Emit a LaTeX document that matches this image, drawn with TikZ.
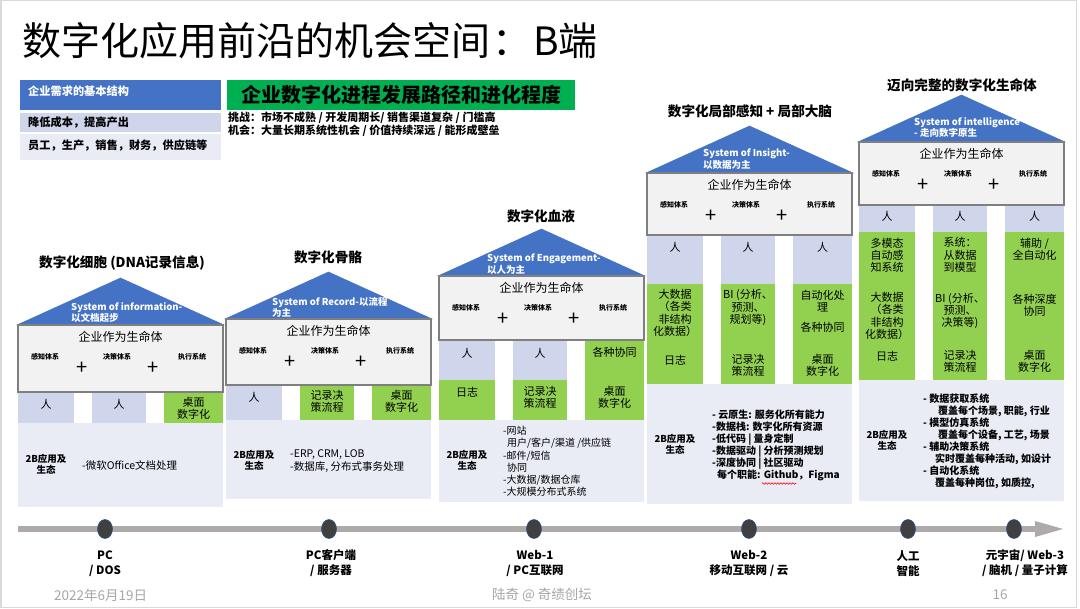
\documentclass[tikz,border=0pt]{standalone}
\usepackage{fontspec}
\setmainfont{Noto Sans CJK SC}
\usetikzlibrary{shapes.geometric,decorations.pathmorphing}
\definecolor{roofblue}{HTML}{4472C4}
\definecolor{boxgray}{HTML}{F2F2F2}
\definecolor{boxedge}{HTML}{7F7F7F}
\definecolor{lavender}{HTML}{CFD5EA}
\definecolor{lightbg}{HTML}{E9EBF5}
\definecolor{colgreen}{HTML}{92D050}
\definecolor{titlegreen}{HTML}{00B050}
\definecolor{bargray}{HTML}{AEAAAA}
\definecolor{dotfill}{HTML}{404040}
\definecolor{dotedge}{HTML}{2F5597}
\definecolor{footgray}{HTML}{A6A6A6}
\definecolor{framegray}{HTML}{D9D9D9}
\tikzset{
 roof/.style={fill=roofblue, draw=roofblue, line width=0.5pt},
 lifebox/.style={fill=boxgray, draw=boxedge, line width=1.6pt},
 lavcol/.style={fill=lavender},
 grncol/.style={fill=colgreen},
 basebox/.style={fill=lightbg},
 htitle/.style={font=\fontsize{13.6}{16}\selectfont\bfseries, inner sep=0pt},
 rooftxt/.style={font=\fontsize{9.5}{11.5}\selectfont\bfseries, text=white, align=left, anchor=west, inner sep=0pt},
 lifetxt/.style={font=\fontsize{12}{14}\selectfont, inner sep=0pt},
 subtxt/.style={font=\fontsize{7}{8}\selectfont\bfseries, inner sep=0pt},
 plustxt/.style={font=\fontsize{20}{20}\selectfont, inner sep=0pt},
 coltxt/.style={font=\fontsize{11}{12.2}\selectfont, align=center, inner sep=0pt},
 ecotxt/.style={font=\fontsize{9.5}{11}\selectfont\bfseries, align=center, inner sep=0pt},
 lsttxt/.style={font=\fontsize{10}{12.2}\selectfont, align=left, anchor=west, inner sep=0pt},
 lstbold/.style={font=\fontsize{10}{12}\selectfont\bfseries, align=left, anchor=west, inner sep=0pt},
 tdot/.style={ellipse, fill=dotfill, draw=dotedge, line width=0.6pt, minimum width=15pt, minimum height=19pt, inner sep=0pt},
 tltxt/.style={font=\fontsize{11.5}{15}\selectfont\bfseries, align=center, inner sep=0pt},
 foottxt/.style={font=\fontsize{13.5}{15}\selectfont, text=footgray, inner sep=0pt},
 leftbox/.style={font=\fontsize{11.2}{13}\selectfont\bfseries, anchor=west, inner sep=0pt},
}
% #1 name, #2 left x, #3 apex y, #4 base y, #5 box bottom
\newcommand\hframe[5]{%
 \fill[roof] ({#2-1},#4) -- ({#2+102.5},#3) -- ({#2+206},#4) -- cycle;
 \draw[lifebox] (#2,#4) rectangle ({#2+205},#5);
 \node[lifetxt] (#1life) at ({#2+102.5},{#4+12}) {企业作为生命体};
 \node[subtxt] (#1s1) at ({#2+27},{#4+32}) {感知体系};
 \node[subtxt] (#1s2) at ({#2+99},{#4+32}) {决策体系};
 \node[subtxt] (#1s3) at ({#2+174},{#4+32}) {执行系统};
 \node[plustxt] (#1p1) at ({#2+64},{#4+43}) {+};
 \node[plustxt] (#1p2) at ({#2+135},{#4+43}) {+};
}
\begin{document}
\begin{tikzpicture}[x=1pt,y=-1pt]
\useasboundingbox (0,0) rectangle (1080,609);
\fill[white] (0,0) rectangle (1080,609);
\draw[framegray, line width=1.5pt] (0.75,0.75) rectangle (1076.5,607.5);

% title
\node[anchor=west, font=\fontsize{39}{40}\selectfont, inner sep=0pt] (title) at (22,41) {数字化应用前沿的机会空间\hspace{2pt}：\hspace{2pt}B端};

% top-left boxes
\fill[roofblue] (20,80) rectangle (221,110);
\node[leftbox, text=white] (need) at (28,91) {企业需求的基本结构};
\fill[lavender] (20,113) rectangle (221,132);
\node[leftbox] (cost) at (28,122.5) {降低成本，提高产出};
\fill[lightbg] (20,134) rectangle (221,160);
\node[leftbox] (staff) at (28,146) {员工，生产，销售，财务，供应链等};

\fill[titlegreen] (227,80) rectangle (575,110);
\node[font=\fontsize{20}{22}\selectfont\bfseries, inner sep=0pt] (gtitle) at (401,95) {企业数字化进程发展路径和进化程度};
\node[anchor=west, align=left, font=\fontsize{11}{13}\selectfont\bfseries, inner sep=0pt] (chal) at (228,124.5) {挑战：市场不成熟 / 开发周期长/ 销售渠道复杂 / 门槛高\\机会：大量长期系统性机会 / 价值持续深远 / 能形成壁垒};

% ---------- House 1
\fill[lavcol] (18,392) rectangle (74,423);
\fill[lavcol] (92,392) rectangle (146,423);
\fill[grncol] (164,392) rectangle (223,423);
\fill[basebox] (18,423) rectangle (223,507);
\hframe{a}{18}{278}{325}{392}
\node[htitle] (atitle) at (122,263) {数字化细胞 (DNA记录信息)};
\node[rooftxt] (aroof) at (71,312.5) {System of information-\\以文档起步};
\node[coltxt] (ac1) at (46,404) {人};
\node[coltxt] (ac2) at (119,404) {人};
\node[coltxt] (ac3) at (193.5,408) {桌面\\数字化};
\node[ecotxt] (aeco) at (46,464) {2B应用及\\生态};
\node[lsttxt, font=\fontsize{10.5}{13}\selectfont] (alst) at (82,465) {-微软Office文档处理};

% ---------- House 2
\fill[lavcol] (226,385) rectangle (282,420);
\fill[grncol] (300,385) rectangle (354,420);
\fill[grncol] (372,385) rectangle (431,420);
\fill[basebox] (226,420) rectangle (431,499);
\hframe{b}{226}{272}{319}{385}
\node[htitle] (btitle) at (328,257) {数字化骨骼};
\node[rooftxt] (broof) at (272,307.5) {System of Record-以流程\\为主};
\node[coltxt] (bc1) at (254,397) {人};
\node[coltxt] (bc2) at (327,401) {记录决\\策流程};
\node[coltxt] (bc3) at (401.5,401) {桌面\\数字化};
\node[ecotxt] (beco) at (254,460.5) {2B应用及\\生态};
\node[lsttxt, font=\fontsize{10.5}{13}\selectfont] (blst) at (290,461.5) {-ERP, CRM, LOB\\-数据库, 分布式事务处理};

% ---------- House 3
\fill[lavcol] (439,340) rectangle (495,380);
\fill[grncol] (439,380) rectangle (495,420);
\fill[lavcol] (513,340) rectangle (567,380);
\fill[grncol] (513,380) rectangle (567,420);
\fill[grncol] (585,340) rectangle (644,420);
\fill[basebox] (439,420) rectangle (644,502);
\hframe{c}{439}{229}{276}{340}
\node[htitle] (ctitle) at (541,216) {数字化血液};
\node[rooftxt] (croof) at (487,264) {System of Engagement-\\以人为主};
\node[coltxt] (cc1a) at (467,353) {人};
\node[coltxt] (cc1b) at (467,392) {日志};
\node[coltxt] (cc2a) at (540,353) {人};
\node[coltxt] (cc2b) at (540,397) {记录决\\策流程};
\node[coltxt] (cc3a) at (614.5,352) {各种协同};
\node[coltxt] (cc3b) at (614.5,397) {桌面\\数字化};
\node[ecotxt] (ceco) at (467,460) {2B应用及\\生态};
\node[lsttxt] (clst) at (503,461.5) {-网站\\\hspace*{4pt}用户/客户/渠道 /供应链\\-邮件/短信\\\hspace*{4pt}协同\\-大数据/数据仓库\\-大规模分布式系统};

% ---------- House 4
\fill[lavcol] (647,235) rectangle (703,284);
\fill[grncol] (647,284) rectangle (703,384);
\fill[lavcol] (721,235) rectangle (775,284);
\fill[grncol] (721,284) rectangle (775,384);
\fill[lavcol] (793,235) rectangle (852,284);
\fill[grncol] (793,284) rectangle (852,384);
\fill[basebox] (647,384) rectangle (852,504);
\hframe{d}{647}{126}{173}{235}
\node[htitle] (dtitle) at (750,111) {数字化局部感知 + 局部大脑};
\node[rooftxt] (droof) at (703,159) {System of Insight-\\以数据为主};
\node[coltxt] (dc1a) at (675,247) {人};
\node[coltxt] (dc2a) at (748,247) {人};
\node[coltxt] (dc3a) at (822.5,247) {人};
\node[coltxt] (dc1b) at (675,313) {大数据\\（各类\\非结构\\化数据）};
\node[coltxt] (dc1c) at (675,360) {日志};
\node[coltxt] (dc2b) at (748,307.5) {BI (分析、\\预测、\\规划等)};
\node[coltxt] (dc2c) at (748,365) {记录决\\策流程};
\node[coltxt] (dc3b) at (822.5,301) {自动化处\\理};
\node[coltxt] (dc3c) at (822.5,327) {各种协同};
\node[coltxt] (dc3d) at (822.5,365) {桌面\\数字化};
\node[ecotxt] (deco) at (675,444) {2B应用及\\生态};
\node[lstbold] (dlst) at (712,445) {- 云原生: 服务化所有能力\\-数据栈: 数字化所有资源\\-低代码 | 量身定制\\-数据驱动 | 分析预测规划\\-深度协同 | 社区驱动\\\hspace*{5pt}每个职能: Github，Figma};
\draw[red, line width=0.6pt, decorate, decoration={snake, amplitude=0.8pt, segment length=3pt}] (762,483.5) -- (796,483.5);

% ---------- House 5
\fill[lavcol] (859,205) rectangle (915,232);
\fill[grncol] (859,232) rectangle (915,380);
\fill[lavcol] (933,205) rectangle (987,232);
\fill[grncol] (933,232) rectangle (987,380);
\fill[lavcol] (1005,205) rectangle (1064,232);
\fill[grncol] (1005,232) rectangle (1064,380);
\fill[basebox] (859,380) rectangle (1064,501);
\hframe{e}{859}{95}{142}{205}
\node[htitle] (etitle) at (962,85) {迈向完整的数字化生命体};
\node[rooftxt] (eroof) at (914,127.5) {System of intelligence\\- 走向数字原生};
\node[coltxt] (ec1a) at (887,216) {人};
\node[coltxt] (ec2a) at (960,216) {人};
\node[coltxt] (ec3a) at (1034.5,216) {人};
\node[coltxt] (ec1b) at (887,255) {多模态\\自动感\\知系统};
\node[coltxt] (ec1c) at (887,316) {大数据\\（各类\\非结构\\化数据）};
\node[coltxt] (ec1d) at (887,356) {日志};
\node[coltxt] (ec2b) at (960,255) {系统：\\从数据\\到模型};
\node[coltxt] (ec2c) at (960,311) {BI (分析、\\预测、\\决策等)};
\node[coltxt] (ec2d) at (960,361) {记录决\\策流程};
\node[coltxt] (ec3b) at (1034.5,249) {辅助 /\\全自动化};
\node[coltxt] (ec3c) at (1034.5,305) {各种深度\\协同};
\node[coltxt] (ec3d) at (1034.5,361) {桌面\\数字化};
\node[ecotxt] (eeco) at (887,440) {2B应用及\\生态};
\node[lstbold] (elst) at (923,441) {- 数据获取系统\\\hspace*{15pt}覆盖每个场景, 职能, 行业\\- 模型仿真系统\\\hspace*{15pt}覆盖每个设备, 工艺, 场景\\- 辅助决策系统\\\hspace*{12pt}实时覆盖每种活动, 如设计\\- 自动化系统\\\hspace*{12pt}覆盖每种岗位, 如质控,};

% ---------- Timeline
\fill[bargray] (18,526) rectangle (1036,532);
\fill[bargray] (1035,521) -- (1063,529) -- (1035,537) -- cycle;
\node[tdot] (t1) at (105,529) {};
\node[tdot] (t2) at (329,529) {};
\node[tdot] (t3) at (534,529) {};
\node[tdot] (t4) at (749,529) {};
\node[tdot] (t5) at (908,529) {};
\node[tdot] (t6) at (1014,529) {};
\node[tltxt] (l1) at (105,563.5) {PC\\/ DOS};
\node[tltxt] (l2) at (331,563.5) {PC客户端\\/ 服务器};
\node[tltxt] (l3) at (535,563.5) {Web-1\\/ PC互联网};
\node[tltxt] (l4) at (749,563.5) {Web-2\\移动互联网 / 云};
\node[tltxt] (l5) at (908,563.5) {人工\\智能};
\node[tltxt] (l6) at (1025,563.5) {元宇宙/ Web-3\\/ 脑机 / 量子计算};

% ---------- Footer
\node[foottxt, anchor=west] (date) at (54,595) {2022年6月19日};
\node[foottxt] (author) at (542,595) {陆奇 @ 奇绩创坛};
\node[foottxt] (page) at (1000,595) {16};
\end{tikzpicture}
\end{document}
